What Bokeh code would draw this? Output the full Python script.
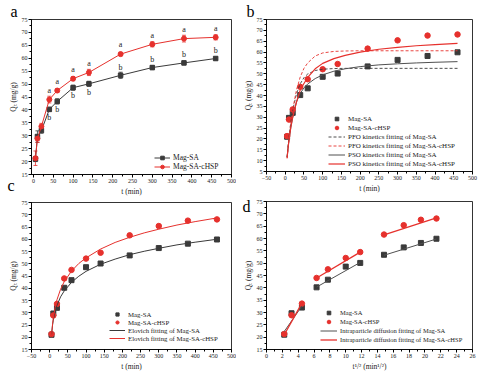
from bokeh.plotting import figure
from bokeh.layouts import row, column
from bokeh.models import (ColumnDataSource, Whisker, TeeHead, Legend, LegendItem,
                          Title, Range1d, SingleIntervalTicker, LinearAxis, FixedTicker)
from bokeh.embed import file_html
from bokeh.resources import INLINE
from bokeh.core.properties import value

# ---------------- data ----------------
t = [5, 10, 20, 40, 60, 100, 140, 220, 300, 380, 460]
q_sa = [21.0, 29.7, 32.0, 40.2, 43.3, 48.6, 50.1, 53.4, 56.4, 58.2, 59.9]
q_hsp = [21.3, 28.9, 33.6, 44.0, 47.5, 52.1, 54.5, 61.6, 65.4, 67.6, 68.1]
err_sa = [1.0, 2.2, 1.0, 0.8, 1.0, 1.0, 1.0, 1.2, 0.8, 0.7, 0.6]
err_hsp = [2.8, 1.5, 1.2, 1.3, 0.7, 0.8, 1.2, 0.7, 1.0, 1.3, 1.0]
letters_sa = ["", "", "", "b", "b", "b", "b", "b", "b", "b", "b"]
side_sa = [0, 0, 0, -1, -1, -1, -1, 1, 1, 1, 1]
letters_hsp = ["", "", "", "a", "a", "a", "a", "a", "a", "a", "a"]
side_hsp = [0, 0, 0, 1, 1, 1, 1, 1, 1, 1, 1]

# fitted curves (b)
t_fit = [5, 8, 10, 15, 20, 30, 40, 50, 60, 80, 100, 130, 160, 200, 250, 300, 350, 400, 460]
pfo_sa = [11.6, 17.3, 20.7, 27.7, 33.2, 40.8, 45.4, 48.2, 49.9, 51.5, 52.1, 52.4, 52.5, 52.5,
          52.5, 52.5, 52.5, 52.5, 52.5]
pfo_hsp = [11.0, 16.5, 20.0, 27.5, 33.5, 42.5, 48.5, 52.5, 55.0, 58.2, 59.6, 60.3, 60.5, 60.6,
           60.6, 60.6, 60.6, 60.6, 60.6]
pso_sa = [11.7, 16.7, 19.5, 25.3, 29.8, 37.0, 41.0, 43.5, 45.3, 47.8, 49.5, 51.2, 52.3, 53.3,
          54.1, 54.6, 55.0, 55.3, 55.6]
pso_hsp = [11.3, 16.5, 19.3, 25.5, 30.0, 37.0, 42.5, 45.5, 48.3, 52.3, 54.8, 57.0, 58.5, 60.0,
           61.3, 62.2, 62.9, 63.4, 64.0]

# Elovich curves (c)
t_elo = [5, 8, 10, 15, 20, 30, 40, 60, 80, 100, 140, 180, 220, 260, 300, 350, 400, 460]
elo_sa = [21.0, 25.1, 27.0, 30.5, 33.0, 36.5, 38.9, 42.4, 44.9, 46.9, 49.8, 51.9, 53.7, 55.1,
          56.3, 57.7, 58.8, 60.0]
elo_hsp = [20.5, 25.5, 27.9, 32.2, 35.3, 39.6, 42.7, 47.0, 50.1, 52.4, 56.0, 58.7, 60.8, 62.6,
           64.1, 65.8, 67.2, 68.7]

# intraparticle diffusion (d)
sqrt_t = [2.24, 3.16, 4.47, 6.32, 7.75, 10.0, 11.83, 14.83, 17.32, 19.49, 21.45]
seg_x = [[2.24, 4.47], [6.32, 11.83], [14.83, 21.45]]
seg_sa = [[22.3, 32.6], [40.3, 50.3], [53.2, 59.8]]
seg_hsp = [[21.0, 33.8], [44.0, 54.5], [61.5, 68.4]]

# ---------------- styling ----------------
FONT = "Liberation Serif"
BLK = "#3a3a3a"
RED = "#e6312d"
TXT = "#1a1a1a"


def make_fig(w, h, xr, yr, bl, br, bt, bb, xint, yint, xlabel, ylabel):
    p = figure(width=w, height=h, x_range=Range1d(*xr), y_range=Range1d(*yr),
               output_backend="svg", toolbar_location=None,
               min_border_left=bl, min_border_right=br, min_border_top=bt, min_border_bottom=bb)
    p.xaxis.ticker = SingleIntervalTicker(interval=xint, num_minor_ticks=2)
    p.yaxis.ticker = SingleIntervalTicker(interval=yint, num_minor_ticks=2)
    p.grid.visible = False
    p.outline_line_color = "black"
    p.outline_line_width = 0.8
    p.outline_line_alpha = 1
    p.xaxis.axis_label = xlabel
    p.yaxis.axis_label = ylabel
    for ax in (p.xaxis[0], p.yaxis[0]):
        ax.axis_line_color = "black"
        ax.axis_line_width = 0.8
        ax.major_tick_out = 3
        ax.major_tick_in = 0
        ax.minor_tick_out = 2
        ax.minor_tick_in = 0
        ax.major_tick_line_color = "black"
        ax.minor_tick_line_color = "black"
        ax.major_label_text_font = FONT
        ax.major_label_text_font_size = "6px"
        ax.major_label_text_color = TXT
        ax.major_label_standoff = 1
        ax.axis_label_text_font = FONT
        ax.axis_label_text_font_size = "7.5px"
        ax.axis_label_text_font_style = "normal"
        ax.axis_label_text_color = TXT
        ax.axis_label_standoff = 1
    return p


def style_legend(lg, gw, gh, fs):
    lg.background_fill_alpha = 0
    lg.border_line_alpha = 0
    lg.padding = 0
    lg.margin = 0
    lg.spacing = 0
    lg.glyph_width = gw
    lg.glyph_height = gh
    lg.label_height = gh
    lg.label_standoff = 3
    lg.label_text_font = FONT
    lg.label_text_font_size = fs
    lg.label_text_color = TXT


def title_letter(p, text, offset):
    p.add_layout(Title(text=text, align="left", offset=offset, standoff=0,
                       text_font=FONT, text_font_size="16px", text_font_style="normal",
                       text_color="black"), "above")


def axis_letter(p, text, at, standoff):
    # panel letter drawn as the only label of an extra, invisible left axis
    ax = LinearAxis(ticker=FixedTicker(ticks=[at], minor_ticks=[]),
                    major_label_overrides={at: text},
                    axis_line_alpha=0, major_tick_line_alpha=0, minor_tick_line_alpha=0,
                    major_tick_out=0, major_tick_in=0, minor_tick_out=0, minor_tick_in=0,
                    major_label_standoff=standoff, major_label_text_font=FONT,
                    major_label_text_font_size="16px", major_label_text_color="black")
    p.add_layout(ax, "left")


YL = "Q\u209c (mg/g)"

# ---------------- panel a ----------------
pa = make_fig(236, 198, (-5, 500), (15, 75), 31, 5, 17, 22, 50, 5, "t (min)", YL)
src_sa = ColumnDataSource(dict(t=t, q=q_sa,
                               up=[q + e for q, e in zip(q_sa, err_sa)],
                               lo=[q - e for q, e in zip(q_sa, err_sa)],
                               lab=letters_sa,
                               ly=[q + s * 3.2 for q, s in zip(q_sa, side_sa)]))
src_hsp = ColumnDataSource(dict(t=t, q=q_hsp,
                                up=[q + e for q, e in zip(q_hsp, err_hsp)],
                                lo=[q - e for q, e in zip(q_hsp, err_hsp)],
                                lab=letters_hsp,
                                ly=[q + s * 3.6 for q, s in zip(q_hsp, side_hsp)]))
for src, col in ((src_sa, BLK), (src_hsp, RED)):
    pa.add_layout(Whisker(source=src, base="t", upper="up", lower="lo", line_color=col,
                          line_width=0.8,
                          upper_head=TeeHead(size=4, line_color=col, line_width=0.8),
                          lower_head=TeeHead(size=4, line_color=col, line_width=0.8)))
la1 = pa.line("t", "q", source=src_sa, color=BLK, line_width=1)
ma1 = pa.scatter("t", "q", source=src_sa, marker="square", size=4.5, color=BLK)
la2 = pa.line("t", "q", source=src_hsp, color=RED, line_width=1)
ma2 = pa.scatter("t", "q", source=src_hsp, marker="circle", size=5, color=RED)
for src in (src_sa, src_hsp):
    pa.text("t", "ly", text="lab", source=src, text_font=value(FONT), text_font_size="8px",
            text_align="center", text_baseline="middle", text_color=TXT)
lga = Legend(items=[LegendItem(label="Mag-SA", renderers=[la1, ma1]),
                    LegendItem(label="Mag-SA-cHSP", renderers=[la2, ma2])],
             location=(123, 3))
style_legend(lga, 16, 9, "7.5px")
pa.add_layout(lga, "center")
title_letter(pa, "a", -21)
axis_letter(pa, "\u00a0\n\u00a0\nc", 15, -9)

# ---------------- panel b ----------------
pb = make_fig(257, 195, (-50, 500), (5, 75), 30, 21, 16, 19, 50, 5, "t (min)", YL)
mb1 = pb.scatter(t, q_sa, marker="square", size=5, color=BLK)
mb2 = pb.scatter(t, q_hsp, marker="circle", size=5.5, color=RED)
lb1 = pb.line(t_fit, pfo_sa, color=BLK, line_width=0.9, line_dash="3 2")
lb2 = pb.line(t_fit, pfo_hsp, color=RED, line_width=0.9, line_dash="3 2")
lb3 = pb.line(t_fit, pso_sa, color="#505050", line_width=1)
lb4 = pb.line(t_fit, pso_hsp, color=RED, line_width=1.2)
lgb = Legend(items=[LegendItem(label="Mag-SA", renderers=[mb1]),
                    LegendItem(label="Mag-SA-cHSP", renderers=[mb2]),
                    LegendItem(label="PFO kinetics fitting of Mag-SA", renderers=[lb1]),
                    LegendItem(label="PFO kinetics fitting of Mag-SA-cHSP", renderers=[lb2]),
                    LegendItem(label="PSO kinetics fitting of Mag-SA", renderers=[lb3]),
                    LegendItem(label="PSO kinetics fitting of Mag-SA-cHSP", renderers=[lb4])],
             location=(62, 3))
style_legend(lgb, 17, 9, "7px")
pb.add_layout(lgb, "center")
title_letter(pb, "b", -20)

# ---------------- panel c ----------------
pc = make_fig(236, 175, (-50, 500), (15, 75), 31, 5, 4, 21, 50, 5, "t (min)", YL)
mc1 = pc.scatter(t, q_sa, marker="square", size=5, color=BLK)
mc2 = pc.scatter(t, q_hsp, marker="circle", size=5.5, color=RED)
lc1 = pc.line(t_elo, elo_sa, color=BLK, line_width=1)
lc2 = pc.line(t_elo, elo_hsp, color=RED, line_width=1)
lgc = Legend(items=[LegendItem(label="Mag-SA", renderers=[mc1]),
                    LegendItem(label="Mag-SA-cHSP", renderers=[mc2]),
                    LegendItem(label="Elovich fitting of Mag-SA", renderers=[lc1]),
                    LegendItem(label="Elovich fitting of Mag-SA-cHSP", renderers=[lc2])],
             location=(78, 7))
style_legend(lgc, 16, 8, "6.8px")
pc.add_layout(lgc, "center")

# ---------------- panel d ----------------
pd_ = make_fig(257, 178, (0, 26), (15, 75), 30, 21, 6, 21, 2, 5,
               "t\u00b9/\u00b2 (min\u00b9/\u00b2)", YL)
md1 = pd_.scatter(sqrt_t, q_sa, marker="square", size=5, color=BLK)
md2 = pd_.scatter(sqrt_t, q_hsp, marker="circle", size=5.5, color=RED)
ld1 = pd_.multi_line(seg_x, seg_sa, color="#505050", line_width=1)
ld2 = pd_.multi_line(seg_x, seg_hsp, color=RED, line_width=1.3)
lgd = Legend(items=[LegendItem(label="Mag-SA", renderers=[md1]),
                    LegendItem(label="Mag-SA-cHSP", renderers=[md2]),
                    LegendItem(label="Intraparticle diffusion fitting of Mag-SA", renderers=[ld1]),
                    LegendItem(label="Intraparticle diffusion fitting of Mag-SA-cHSP",
                               renderers=[ld2])],
             location=(54, 5))
style_legend(lgd, 17, 9, "6.5px")
pd_.add_layout(lgd, "center")
axis_letter(pd_, "d", 75, -10)

layout = row(column(pa, pc), column(pb, pd_))
open("out.html", "w").write(file_html(layout, INLINE))
